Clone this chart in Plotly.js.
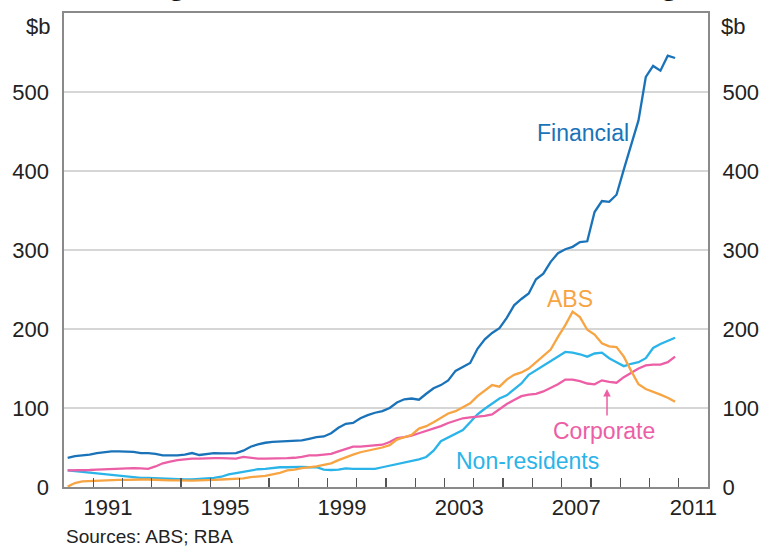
<!DOCTYPE html>
<html>
<head>
<meta charset="utf-8">
<script src="https://cdn.plot.ly/plotly-3.0.1.min.js"></script>
<style>
  html, body { margin: 0; padding: 0; background: #ffffff; }
  #chart { width: 760px; height: 549px; }
</style>
</head>
<body>
<div id="chart"></div>
<script>
// Quarterly observations, 1990 Q1 .. 2010 Q4 (plotted at mid-quarter)
const firstYear = 1990;
const lastYear = 2010;

// $b
const financial = [
  37, 39, 40, 41,
  43, 44, 45, 45,
  45, 44.5, 43, 43,
  42, 40, 40, 40,
  41, 43, 40.5, 42,
  43, 42.5, 42.5, 43,
  46, 51, 54, 56,
  57, 57.5, 58, 59,
  59, 61, 63, 64,
  68, 75, 80, 81,
  87, 91, 94, 96,
  100, 107, 111, 112,
  110.5, 118, 125, 129,
  135, 147, 152, 157,
  175, 187, 195, 201,
  214, 230, 238, 245,
  263, 270, 285, 296,
  301, 304, 310, 311,
  348, 362, 361, 370,
  402, 433, 464, 519,
  533, 527, 546, 543
];

const abs = [
  0.5, 5, 7, 7.5,
  8, 8, 8.5, 9,
  9, 9.5, 9.5, 9.5,
  9, 9, 8.5, 8.5,
  8, 8, 8.5, 8.5,
  9, 9.5, 10, 10.5,
  11, 12.5, 13, 14,
  16, 18, 21, 22,
  24, 25, 26, 28,
  30, 34, 38, 41,
  44, 46, 48, 50,
  53, 60, 63, 66,
  74, 77, 82, 87,
  93, 96, 101, 106,
  115, 122, 129, 127,
  136, 142, 145, 150,
  158, 167, 174, 190,
  205, 222, 215, 199,
  193, 182, 178, 177,
  165, 147, 130, 124,
  121, 117, 113, 108
];

const corporate = [
  21, 21, 21, 21.5,
  22, 22.5, 23, 23.5,
  24, 24, 23.5, 23,
  26, 30, 32, 34,
  35, 36, 36, 36.5,
  36.5, 36.5, 36, 36,
  38, 37, 36, 36,
  36, 36, 36.5, 37,
  38, 40, 40, 41,
  42, 45, 48, 51,
  51, 52, 53, 53.5,
  57, 62, 63, 65,
  68, 71, 74, 77,
  81, 84, 87, 88,
  89, 90, 92, 99,
  105, 110, 115, 117,
  118, 121, 125, 130,
  136, 136, 134, 131,
  130, 135, 133, 132,
  139, 145, 150, 154,
  155, 155, 158, 165
];

const nonResidents = [
  21, 20, 19, 18,
  17, 16, 15, 14.5,
  13, 12, 11.5, 11.5,
  11, 10.5, 10, 9.5,
  9.5, 9.5, 10, 10.5,
  11.5, 13, 16, 17.5,
  19, 21, 22.5, 23,
  24, 25, 25, 25.5,
  25.5, 25, 25, 22,
  21.5, 22, 23.5, 23,
  23, 23, 23, 25,
  27, 29.5, 31, 33,
  35, 38, 46, 58,
  63, 67, 72, 82,
  92, 99, 106, 112,
  116, 124, 131, 142,
  148, 154, 160, 165,
  171, 170, 168, 165,
  169, 170, 163, 158,
  153, 156, 158, 163,
  176, 181, 185, 189
];

const yearLabels = ['1991', '1995', '1999', '2003', '2007', '2011'];
const yTicks = [0, 100, 200, 300, 400, 500];
const yearBoundaries = [1991,1992,1993,1994,1995,1996,1997,1998,1999,2000,
                        2001,2002,2003,2004,2005,2006,2007,2008,2009,2010,2011];

// time index (mid-quarter, decimal years)
const quarters = [];
for (let y = firstYear; y <= lastYear; y++) {
  for (let q = 0; q < 4; q++) quarters.push(y + 0.125 + q * 0.25);
}

const C_FIN = '#1a73b9';
const C_ABS = '#f7a443';
const C_CORP = '#ec5ea5';
const C_NR = '#2ab4e9';

const lw = 2.3;
const traces = [
  { x: quarters, y: nonResidents, type: 'scatter', mode: 'lines', name: 'Non-residents',
    line: { color: C_NR, width: lw } },
  { x: quarters, y: corporate, type: 'scatter', mode: 'lines', name: 'Corporate',
    line: { color: C_CORP, width: lw } },
  { x: quarters, y: abs, type: 'scatter', mode: 'lines', name: 'ABS',
    line: { color: C_ABS, width: lw } },
  { x: quarters, y: financial, type: 'scatter', mode: 'lines', name: 'Financial',
    line: { color: C_FIN, width: lw }, yaxis: 'y2' }
];

const tickFont = { family: 'Liberation Sans, Arial, sans-serif', size: 22, color: '#222222' };
const labFont = (c) => ({ family: 'Liberation Sans, Arial, sans-serif', size: 23, color: c });
const frame = '#8a8a8a';

const layout = {
  width: 760, height: 549,
  margin: { l: 64, r: 52, t: 13, b: 61.5, pad: 0 },
  paper_bgcolor: '#ffffff', plot_bgcolor: '#ffffff',
  showlegend: false,
  xaxis: {
    range: [1990, 2012],
    tickmode: 'array',
    tickvals: yearLabels.map(s => Number(s) + 0.5),
    ticktext: yearLabels,
    ticks: 'outside', ticklen: 0, tickcolor: 'rgba(0,0,0,0)',
    tickfont: tickFont,
    minor: { tickmode: 'array', tickvals: yearBoundaries, ticks: 'inside',
             ticklen: 9, tickwidth: 1.3, tickcolor: '#555555', showgrid: false },
    showgrid: false, zeroline: false,
    showline: true, linecolor: frame, linewidth: 1.6, mirror: true
  },
  yaxis: {
    range: [0, 600],
    tickmode: 'array', tickvals: yTicks,
    ticks: 'outside', ticklen: 9, tickcolor: 'rgba(0,0,0,0)',
    tickfont: tickFont,
    showgrid: true, gridcolor: '#d6d6d6', gridwidth: 1.2,
    zeroline: false,
    showline: true, linecolor: frame, linewidth: 1.6, mirror: true
  },
  yaxis2: {
    range: [0, 600], overlaying: 'y', side: 'right',
    tickmode: 'array', tickvals: yTicks,
    ticks: 'outside', ticklen: 9, tickcolor: 'rgba(0,0,0,0)',
    tickfont: tickFont,
    showgrid: false, zeroline: false, showline: false
  },
  annotations: [
    { text: 'Non-government Bonds Outstanding', xref: 'paper', yref: 'paper',
      x: 0.4975, y: 1.0205, xanchor: 'center', yanchor: 'bottom', showarrow: false,
      font: { family: 'Liberation Sans, Arial, sans-serif', size: 33.6, color: '#111111', weight: 'bold' } },
    { text: '$b', xref: 'paper', yref: 'paper', x: -0.0186, y: 0.9705,
      xanchor: 'right', yanchor: 'middle', showarrow: false, font: tickFont },
    { text: '$b', xref: 'paper', yref: 'paper', x: 1.0171, y: 0.9705,
      xanchor: 'left', yanchor: 'middle', showarrow: false, font: tickFont },
    { text: 'Sources: ABS; RBA', xref: 'paper', yref: 'paper', x: 0.0, y: -0.105,
      xanchor: 'left', yanchor: 'middle', showarrow: false,
      font: { family: 'Liberation Sans, Arial, sans-serif', size: 19, color: '#222222' } },
    { text: 'Financial', x: 2007.73, y: 447.6, xanchor: 'center', yanchor: 'middle',
      showarrow: false, font: labFont(C_FIN) },
    { text: 'ABS', x: 2007.30, y: 238.6, xanchor: 'center', yanchor: 'middle',
      showarrow: false, font: labFont(C_ABS) },
    { text: 'Corporate', x: 2008.45, y: 71.3, xanchor: 'center', yanchor: 'middle',
      showarrow: false, font: labFont(C_CORP) },
    { text: 'Non-residents', x: 2005.85, y: 33.5, xanchor: 'center', yanchor: 'middle',
      showarrow: false, font: labFont(C_NR) },
    { text: '', x: 2008.55, y: 124, ax: 0, ay: 28, showarrow: true,
      arrowhead: 2, arrowsize: 1, arrowwidth: 1.5, arrowcolor: C_CORP, standoff: 0 }
  ]
};

Plotly.newPlot('chart', traces, layout, { staticPlot: true, displayModeBar: false });
</script>
</body>
</html>
